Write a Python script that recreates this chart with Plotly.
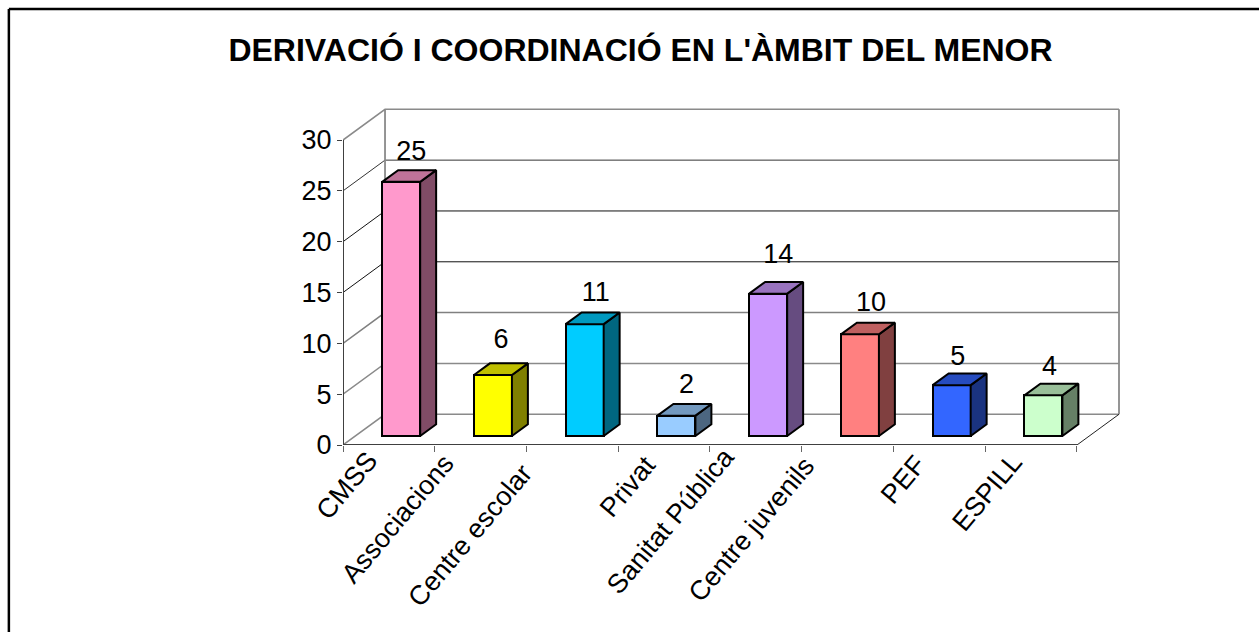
import plotly.graph_objects as go

TITLE = "DERIVACIÓ I COORDINACIÓ EN L'ÀMBIT DEL MENOR"
CATEGORIES = ["CMSS", "Associacions", "Centre escolar", "Privat",
              "Sanitat Pública", "Centre juvenils", "PEF", "ESPILL"]
VALUES = [25, 6, 11, 2, 14, 10, 5, 4]
Y_TICKS = [0, 5, 10, 15, 20, 25, 30]
FRONT_COLORS = [(255, 153, 204), (255, 255, 0), (0, 204, 255), (153, 204, 255),
                (204, 153, 255), (255, 128, 128), (51, 102, 255), (204, 255, 204)]
GRID_COLORS = ["#8a8a8a", "#8a8a8a", "#808080", "#111111", "#111111", "#333333", "#8a8a8a"]
GRID_WIDTHS = [1.5, 1.5, 1.5, 1, 1, 1, 1.5]
# pixel nudges of the slanted category labels
LABEL_DX = [-2, -18, -31, 1, -13, -24, -5, 0]
LABEL_DY = [-2, 1, 10, 2, -6, 3, 2, -1]
# pixel nudges of the value labels
VALUE_DX = [2, 0, 3, 2, 2, 3, -2, -2]
VALUE_DY = [3, 9, 5, 4, 12, 5, 2, 2]

W, H = 1259, 632
X0, X1, Y0, Y1 = 343.0, 1076.7, 444.7, 140.0
n = len(CATEGORIES)
PXU = (X1 - X0) / n
PYU = (Y0 - Y1) / 30
DEPTH_X = 42 / PXU     # wall offset in x units
DEPTH_Y = 30.7 / PYU   # wall offset in y units
BAR_W = 0.414
D_FRONT, D_BACK = 0.293, 0.673
# plot area also covers the slanted back wall
PX1 = X1 + 45
PY1 = Y1 - 34
XMAX = (PX1 - X0) / PXU
YMAX = (Y0 - PY1) / PYU


def shade(rgb, k):
    return "rgb(%d,%d,%d)" % tuple(round(c * k) for c in rgb)


def proj(x, y, d):
    return x + d * DEPTH_X, y + d * DEPTH_Y


fig = go.Figure()
wall_shapes = []


def wall(xs, ys, color, width=1):
    path = "M " + " L ".join("%f %f" % p for p in zip(xs, ys))
    wall_shapes.append(dict(type="path", path=path, xref="x", yref="y", layer="below",
                            line=dict(color=color, width=width)))


def line(xs, ys, color, width=1):
    fig.add_trace(go.Scatter(x=xs, y=ys, mode="lines", cliponaxis=False, showlegend=False,
                             hoverinfo="skip", line=dict(color=color, width=width)))


# back wall and floor: below the bars
for t, c, w in zip(Y_TICKS, GRID_COLORS, GRID_WIDTHS):
    bx0, by = proj(0, t, 1)
    bx1, _ = proj(n, t, 1)
    wall([0, bx0, bx1], [t, by, by], c, w)
bx0, by0 = proj(0, 0, 1)
_, by1 = proj(0, 30, 1)
wall([bx0, bx0], [by0, by1], "#8a8a8a", 1.8)
bx1, _ = proj(n, 0, 1)
wall([bx1, bx1], [by0, by1], "#8a8a8a", 1.8)
wall([n, bx1], [0, by0], "#222222")
# front axis lines
line([0, 0], [0, 30], "#404040", 2)
line([0, n], [0, 0], "#404040", 2)

# bar sides and tops
centers = [i + 0.5 for i in range(n)]
base = D_FRONT * DEPTH_Y
for cx, v, rgb in zip(centers, VALUES, FRONT_COLORS):
    l, r = cx - BAR_W / 2, cx + BAR_W / 2
    pts_side = [proj(r, 0, D_FRONT), proj(r, 0, D_BACK), proj(r, v, D_BACK), proj(r, v, D_FRONT), proj(r, 0, D_FRONT)]
    pts_top = [proj(l, v, D_FRONT), proj(l, v, D_BACK), proj(r, v, D_BACK), proj(r, v, D_FRONT), proj(l, v, D_FRONT)]
    for pts, k in ((pts_side, 0.5), (pts_top, 0.75)):
        fig.add_trace(go.Scatter(x=[p[0] for p in pts], y=[p[1] for p in pts], mode="lines",
                                 fill="toself", fillcolor=shade(rgb, k), cliponaxis=False,
                                 showlegend=False, hoverinfo="skip",
                                 line=dict(color="black", width=2)))

# bar fronts
fig.add_trace(go.Bar(x=[c + D_FRONT * DEPTH_X for c in centers], y=VALUES, base=base, width=BAR_W,
                     marker=dict(color=[shade(c, 1) for c in FRONT_COLORS],
                                 line=dict(color="black", width=2)),
                     showlegend=False, cliponaxis=False))

# value labels
fig.add_trace(go.Scatter(
    x=[proj(c, v, (D_FRONT + D_BACK) / 2)[0] + dx / PXU for c, v, dx in zip(centers, VALUES, VALUE_DX)],
    y=[proj(c, v, D_BACK)[1] + dy / PYU for c, v, dy in zip(centers, VALUES, VALUE_DY)],
    text=[str(v) for v in VALUES], mode="text", textposition="top center", cliponaxis=False,
    textfont=dict(size=27, color="black", family="Liberation Sans"), showlegend=False, hoverinfo="skip"))

annotations = [dict(text=t, x=c, y=0, xref="x", yref="y", xshift=dx, yshift=-dy,
                    xanchor="right", yanchor="top", textangle=-50, showarrow=False,
                    font=dict(size=27, color="black", family="Liberation Sans"))
               for t, c, dx, dy in zip(CATEGORIES, centers, LABEL_DX, LABEL_DY)]


def px(x):
    return (x - X0) / (PX1 - X0)


def py(y):
    return (Y0 - y) / (Y0 - PY1)


fig.update_layout(
    width=W, height=H, autosize=False, paper_bgcolor="white", plot_bgcolor="white",
    margin=dict(l=X0, r=W - PX1, t=PY1, b=H - Y0, pad=0),
    bargap=0, showlegend=False,
    font=dict(family="Liberation Sans", color="black"),
    title=dict(text="<b>%s</b>" % TITLE, xref="container", yref="container", x=640.5 / W, y=1 - 50 / H,
               xanchor="center", yanchor="middle", font=dict(size=32, color="black", family="Liberation Sans")),
    xaxis=dict(range=[0, XMAX], tickvals=list(range(n + 1)), ticktext=[""] * (n + 1), ticks="outside", ticklen=6,
               tickcolor="#666666", showgrid=False, zeroline=False, showline=False),
    yaxis=dict(range=[0, YMAX], tickvals=Y_TICKS, ticks="outside", ticklen=5, tickcolor="#404040",
               showgrid=False, zeroline=False, showline=False,
               tickfont=dict(size=27, color="black", family="Liberation Sans")),
    annotations=annotations,
    shapes=wall_shapes + [
        dict(type="line", xref="paper", yref="paper", x0=px(9), x1=px(W),
             y0=py(9), y1=py(9), line=dict(color="black", width=2.5)),
        dict(type="line", xref="paper", yref="paper", x0=px(9), x1=px(9),
             y0=py(H), y1=py(9), line=dict(color="black", width=2.5))],
)

POST = """
document.documentElement.style.overflow='hidden';
document.body.style.margin='0';
"""
fig.write_html("out.html", post_script=POST, config=dict(displayModeBar=False))
